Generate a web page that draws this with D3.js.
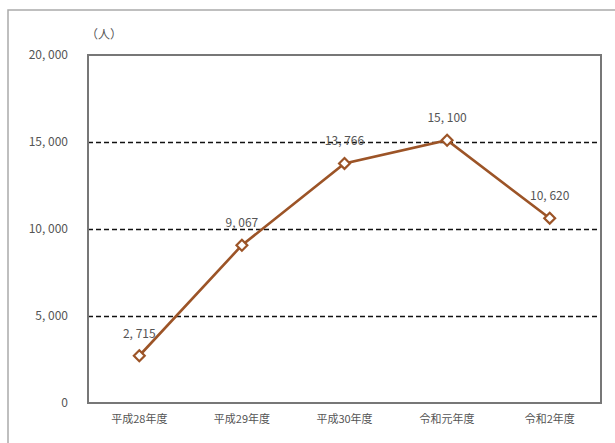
<!DOCTYPE html>
<html>
<head>
<meta charset="utf-8">
<script src="https://cdn.jsdelivr.net/npm/d3@7"></script>
<style>
  html, body { margin: 0; padding: 0; background: #fff; }
  svg { display: block; }
  text { font-family: "Noto Sans CJK JP", "DejaVu Sans", sans-serif; fill: #555; }
</style>
</head>
<body>
<svg id="chart" width="615" height="443"></svg>
<script>
// Fiscal years and annual counts (persons)
const categories = ["平成28年度", "平成29年度", "平成30年度", "令和元年度", "令和2年度"];
const values = [2715, 9067, 13766, 15100, 10620];
const yTicks = [0, 5000, 10000, 15000, 20000];
const unitLabel = "（人）";

const svg = d3.select("#chart");
const margin = { left: 88, right: 14, top: 55, bottom: 40 };
const W = 615, H = 443;

// outer frame (top and left edges visible)
svg.append("path")
  .attr("d", `M8,${H} L8,10 L${W},10`)
  .attr("fill", "none").attr("stroke", "#aaa").attr("stroke-width", 1.5);

const x = d3.scaleBand().domain(categories)
  .range([margin.left, W - margin.right]).padding(0);
const y = d3.scaleLinear().domain([0, 20000])
  .range([H - margin.bottom, margin.top]);

const fmt = d => d3.format(",")(d).replace(",", ", ");

// dashed gridlines
svg.append("g").selectAll("line")
  .data(yTicks.filter(t => t > 0 && t < 20000))
  .join("line")
  .attr("x1", margin.left).attr("x2", W - margin.right)
  .attr("y1", d => y(d) + 0.5).attr("y2", d => y(d) + 0.5)
  .attr("stroke", "#111").attr("stroke-width", 1.3)
  .attr("stroke-dasharray", "5,3");

// plot border
svg.append("rect")
  .attr("x", margin.left).attr("y", margin.top)
  .attr("width", W - margin.right - margin.left)
  .attr("height", H - margin.bottom - margin.top)
  .attr("fill", "none").attr("stroke", "#777").attr("stroke-width", 2);

// y axis labels
const yAxis = d3.axisLeft(y).tickValues(yTicks).tickSize(0).tickPadding(20)
  .tickFormat(d => d === 0 ? "0" : fmt(d));
const gy = svg.append("g").attr("transform", `translate(${margin.left},0)`).call(yAxis);
gy.select(".domain").remove();
gy.selectAll("text").attr("font-size", 12).style("fill", "#555")
  .style("font-family", '"Noto Sans CJK JP", sans-serif');

// x axis labels
const xAxis = d3.axisBottom(x).tickSize(0).tickPadding(12);
const gx = svg.append("g").attr("transform", `translate(0,${H - margin.bottom})`).call(xAxis);
gx.select(".domain").remove();
gx.selectAll("text").attr("font-size", 11).style("fill", "#555")
  .style("font-family", '"Noto Sans CJK JP", sans-serif');

// unit label
svg.append("text").attr("x", 86).attr("y", 39)
  .attr("font-size", 12).text(unitLabel);

// series line
const line = d3.line()
  .x((d, i) => x(categories[i]) + x.bandwidth() / 2)
  .y(d => y(d));
svg.append("path").datum(values)
  .attr("d", line)
  .attr("fill", "none").attr("stroke", "#9c5427").attr("stroke-width", 2.6);

// diamond markers
svg.append("g").selectAll("path")
  .data(values).join("path")
  .attr("transform", (d, i) => `translate(${x(categories[i]) + x.bandwidth() / 2},${y(d)})`)
  .attr("d", d3.symbol(d3.symbolDiamond2, 75))
  .attr("fill", "#fff").attr("stroke", "#9c5427").attr("stroke-width", 2.2);

// value labels
svg.append("g").selectAll("text")
  .data(values).join("text")
  .attr("x", (d, i) => x(categories[i]) + x.bandwidth() / 2)
  .attr("y", d => y(d) - 18)
  .attr("text-anchor", "middle")
  .attr("font-size", 12)
  .text(d => fmt(d));
</script>
</body>
</html>
